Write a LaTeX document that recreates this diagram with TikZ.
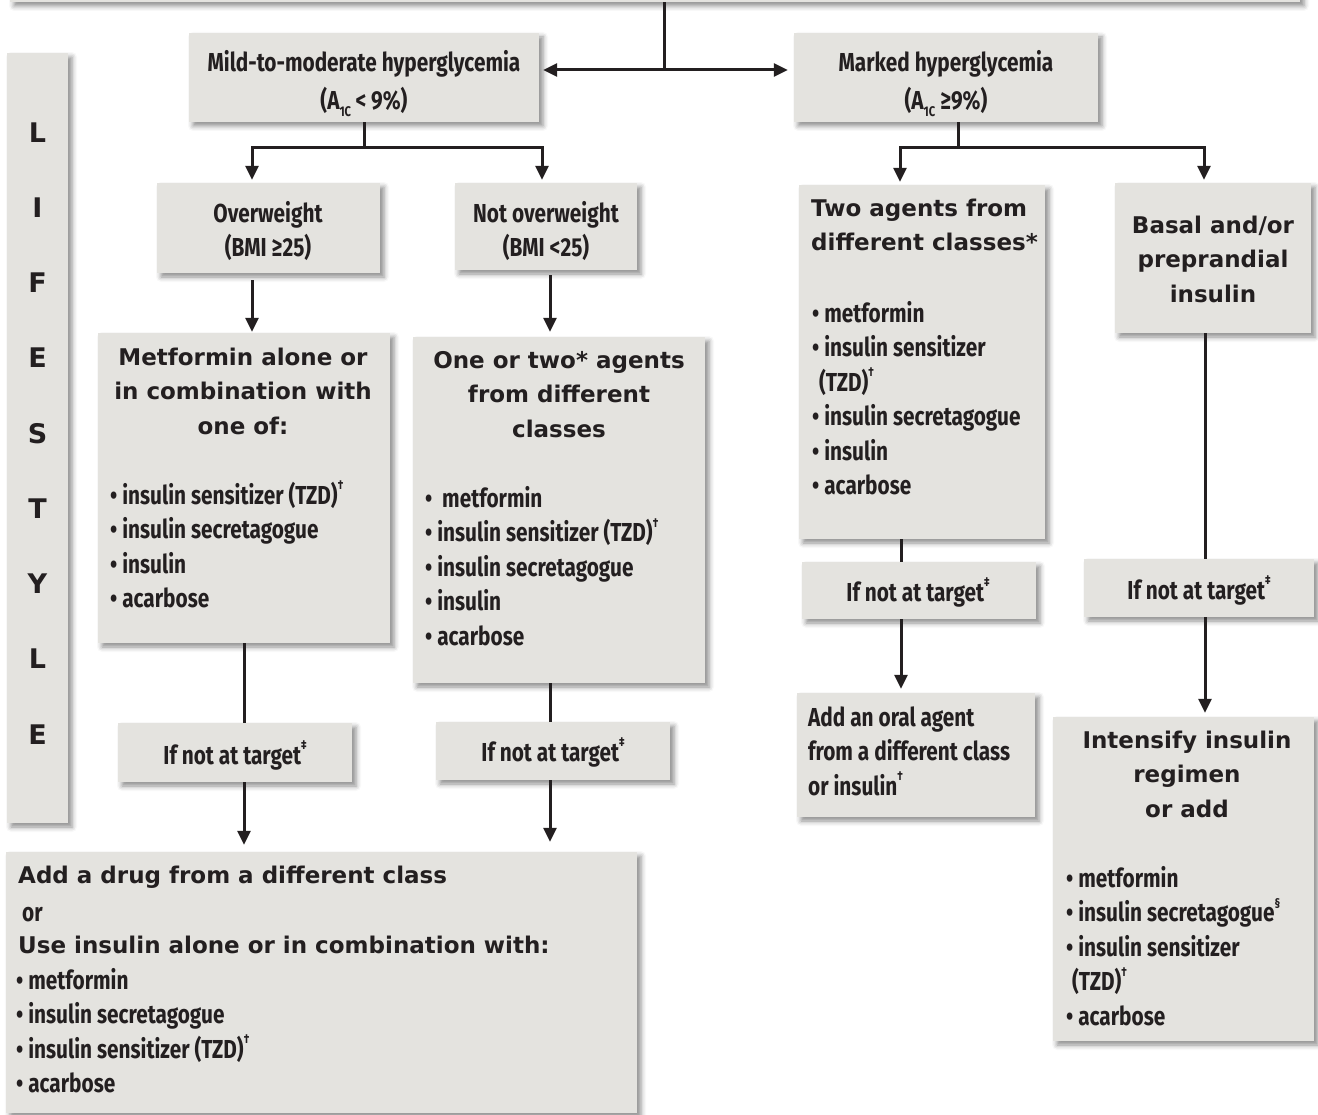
\documentclass[tikz,border=0pt]{standalone}
\usepackage{fontspec}
\setmainfont{Fira Sans}[FakeStretch=0.8]
\newfontfamily\widef{DejaVu Sans}
\usetikzlibrary{arrows.meta,fit,shadows.blur}
\definecolor{txt}{HTML}{231F20}
\definecolor{boxfill}{HTML}{E4E3DF}
\newcommand\cf{\normalfont\bfseries\fontsize{26}{34.5}\selectfont}
\newcommand\wf{\widef\bfseries\fontsize{23}{34.5}\selectfont}
\newcommand\st{\rule{0pt}{26pt}}
\newcommand\supmark[1]{\raisebox{0.55em}{\fontsize{13}{13}\selectfont #1}}
\newcommand\aonec{A\raisebox{-0.28em}{\fontsize{14}{14}\selectfont 1C}}
\newcommand\mybox[5]{\node[box, fit={(#2,#3) (#4,#5)}] (#1) {};}
\begin{document}
\begin{tikzpicture}[x=1pt,y=-1pt,
  box/.style={fill=boxfill, draw=none, inner sep=0pt,
    blur shadow={shadow xshift=4pt, shadow yshift=-4pt, shadow blur radius=5pt, shadow opacity=45}},
  lbl/.style={inner sep=0pt, anchor=north, align=center, text=txt, font=\cf},
  lbll/.style={inner sep=0pt, anchor=north west, align=left, text=txt, font=\cf},
  wlbl/.style={lbl, font=\wf},
  wlbll/.style={lbll, font=\wf},
  ln/.style={draw=txt, line width=3pt},
  arr/.style={ln, -{Triangle[length=14pt,width=13pt]}}]
\useasboundingbox (0,0) rectangle (1318,1115);

% boxes
\mybox{topb}{10}{-30}{1300}{2}
\mybox{life}{7}{53}{68}{823}
\mybox{mild}{189}{33}{539}{122}
\mybox{marked}{794}{33}{1098}{122}
\mybox{over}{157}{183}{380}{273}
\mybox{notover}{455}{183}{637}{270}
\mybox{metf}{98}{333}{390}{643}
\mybox{oneor}{413}{337}{705}{683}
\mybox{two}{799}{185}{1045}{539}
\mybox{basal}{1115}{183}{1311}{333}
\mybox{if1}{118}{723}{352}{782}
\mybox{if2}{436}{722}{670}{780}
\mybox{if3}{802}{562}{1036}{619}
\mybox{if4}{1084}{559}{1314}{617}
\mybox{oral}{797}{693}{1035}{817}
\mybox{intens}{1053}{717}{1314}{1041}
\mybox{bottom}{6}{852}{637}{1113}

% texts
\node[inner sep=0pt, anchor=north, align=center, text=txt,
  font=\widef\bfseries\fontsize{27}{75.25}\selectfont] (tlife) at (37.5,116)
  {\st L\\I\\F\\E\\S\\T\\Y\\L\\E};
\node[lbl, font=\normalfont\bfseries\fontsize{26}{38}\selectfont] (tmild) at (364,45)
  {\st Mild-to-moderate hyperglycemia\\(\aonec\,< 9\%)};
\node[lbl, font=\normalfont\bfseries\fontsize{26}{38}\selectfont] (tmarked) at (946,45)
  {\st Marked hyperglycemia\\(\aonec\ ≥9\%)};
\node[lbl] (tover) at (268,196) {\st Overweight\\(BMI ≥25)};
\node[lbl] (tnotover) at (546,196) {\st Not overweight\\(BMI <25)};
\node[wlbl] (tmetfh) at (243,339) {\st Metformin alone or\\in combination with\\one of:};
\node[lbll] (tmetfb) at (110,478) {\st • insulin sensitizer (TZD)\supmark{†}\\• insulin secretagogue\\• insulin\\• acarbose};
\node[wlbl] (toneorh) at (559,342) {\st One or two* agents\\from different\\classes};
\node[lbll] (toneorb) at (425,481) {\st •\ \ metformin\\• insulin sensitizer (TZD)\supmark{†}\\• insulin secretagogue\\• insulin\\• acarbose};
\node[wlbll] (ttwoh) at (811,190) {\st Two agents from\\different classes*};
\node[lbll] (ttwob) at (812,296) {\st • metformin\\• insulin sensitizer\\\hspace*{7pt}(TZD)\supmark{†}\\• insulin secretagogue\\• insulin\\• acarbose};
\node[wlbl] (tbasal) at (1213,207) {\st Basal and/or\\preprandial\\insulin};
\node[lbl] (tif1) at (235,738) {\st If not at target\supmark{‡}};
\node[lbl] (tif2) at (553,735) {\st If not at target\supmark{‡}};
\node[lbl] (tif3) at (918,575) {\st If not at target\supmark{‡}};
\node[lbl] (tif4) at (1199,573) {\st If not at target\supmark{‡}};
\node[lbll] (toral) at (808,700) {\st Add an oral agent\\from a different class\\or insulin\supmark{†}};
\node[wlbl] (tintensh) at (1187,722) {\st Intensify insulin\\regimen\\or add};
\node[lbll] (tintensb) at (1066,861) {\st • metformin\\• insulin secretagogue\supmark{§}\\• insulin sensitizer\\\hspace*{6pt}(TZD)\supmark{†}\\• acarbose};
\node[wlbll] (tbot1) at (18,857) {\st Add a drug from a different class};
\node[lbll] (tbot2) at (22,895) {\st or};
\node[wlbll] (tbot3) at (18,927) {\st Use insulin alone or in combination with:};
\node[lbll] (tbot4) at (16,963) {\st • metformin\\• insulin secretagogue\\• insulin sensitizer (TZD)\supmark{†}\\• acarbose};

% connectors
\coordinate (jt) at (664,70);
\draw[ln] (topb.south -| jt) -- (jt);
\draw[arr, shorten >=4pt] (jt) -- (mild.east |- jt);
\draw[arr, shorten >=6pt] (jt) -- (marked.west |- jt);

\coordinate (jl) at (364,148);
\coordinate (jlw) at (252,148);
\coordinate (jle) at (542,148);
\draw[ln] (mild.south -| jl) -- (jl);
\draw[arr, shorten >=3pt] (jl) -| (over.north -| jlw);
\draw[arr, shorten >=3pt] (jl) -| (notover.north -| jle);

\coordinate (jr) at (958,148);
\coordinate (jrw) at (900,148);
\coordinate (jre) at (1204,148);
\draw[ln] (marked.south -| jr) -- (jr);
\draw[arr, shorten >=3pt] (jr) -| (two.north -| jrw);
\draw[arr, shorten >=3pt] (jr) -| (basal.north -| jre);

\coordinate (xa) at (244,0);
\coordinate (xb) at (550,0);
\coordinate (xc) at (901,0);
\coordinate (xd) at (1205,0);
\draw[arr, shorten <=7pt, shorten >=1pt] (over.south -| jlw) -- (metf.north -| jlw);
\draw[arr, shorten <=5pt, shorten >=5pt] (notover.south -| xb) -- (oneor.north -| xb);
\draw[ln] (metf.south -| xa) -- (if1.north -| xa);
\draw[arr, shorten >=7pt] (if1.south -| xa) -- (bottom.north -| xa);
\draw[ln] (oneor.south -| xb) -- (if2.north -| xb);
\draw[arr, shorten >=10pt] (if2.south -| xb) -- (bottom.north -| xb);
\draw[ln] (two.south -| xc) -- (if3.north -| xc);
\draw[arr, shorten >=4pt] (if3.south -| xc) -- (oral.north -| xc);
\draw[ln] (basal.south -| xd) -- (if4.north -| xd);
\draw[arr, shorten >=4pt] (if4.south -| xd) -- (intens.north -| xd);
\end{tikzpicture}
\end{document}
